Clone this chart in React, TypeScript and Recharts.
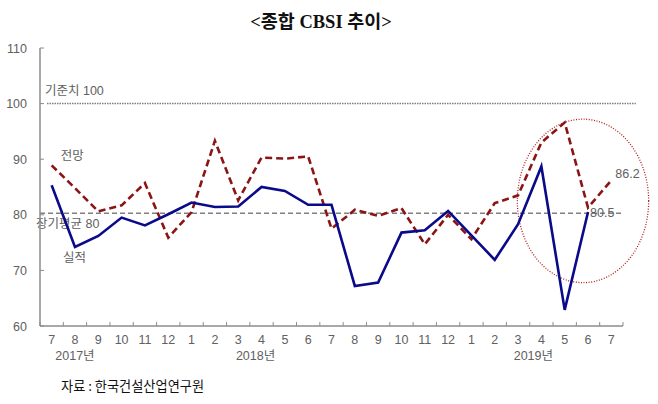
import React from "react";
import {
  LineChart,
  Line,
  XAxis,
  YAxis,
  ReferenceLine,
  ReferenceArea,
  LabelList,
} from "recharts";

// 2017.7 ~ 2019.7 monthly
const MONTHS = [
  "7", "8", "9", "10", "11", "12",
  "1", "2", "3", "4", "5", "6", "7", "8", "9", "10", "11", "12",
  "1", "2", "3", "4", "5", "6", "7",
];
const YEAR_LABELS = [
  { at: 1, label: "2017년", shift: 0 },
  { at: 9, label: "2018년", shift: -6 },
  { at: 21, label: "2019년", shift: -8 },
];
const ACTUAL = [
  85.3, 74.2, 76.2, 79.5, 78.1, 80.1, 82.2, 81.4, 81.5, 85.0, 84.3, 81.8,
  81.8, 67.2, 67.8, 76.8, 77.2, 80.7, 76.3, 71.9, 78.3, 88.7, 62.9, 80.5, null,
];
const FORECAST = [
  88.9, 84.8, 80.6, 81.7, 85.7, 75.9, 80.5, 93.3, 82.6, 90.3, 90.1, 90.5,
  77.5, 80.9, 79.8, 81.2, 74.7, 80.0, 75.6, 82.1, 83.5, 93.0, 96.6, 81.3, 86.2,
];
const Y_TICKS = [60, 70, 80, 90, 100, 110];
const BASELINE = 100;
const LONG_RUN_AVG = 80.3;
// dotted circle around 2019.3 ~ 2019.7
const HIGHLIGHT = { x1: 20.47, x2: 26.1, y1: 67.8, y2: 97.2 };

const data = MONTHS.map((m, i) => ({
  x: i + 0.5,
  month: m,
  actual: ACTUAL[i],
  forecast: FORECAST[i],
}));

// boundaries get tick marks, centers get month labels
const xTicks: number[] = [];
for (let i = 0; i <= MONTHS.length; i++) {
  xTicks.push(i);
  if (i < MONTHS.length) xTicks.push(i + 0.5);
}

const FONT = "'Liberation Sans', 'Noto Sans CJK KR', sans-serif";
const TEXT = "#606060";
const AXIS = "#8c8c8c";
const NAVY = "#0a0a8a";
const MAROON = "#8b1414";

const XTick = (props: any) => {
  const { x, y, payload } = props;
  const v = payload.value as number;
  if (Number.isInteger(v)) {
    return <line x1={x} x2={x} y1={y - 4} y2={y} stroke={AXIS} strokeWidth={1} />;
  }
  const idx = Math.floor(v);
  const year = YEAR_LABELS.find((d) => d.at === idx);
  return (
    <g>
      <text x={x} y={y + 18} textAnchor="middle" fontSize={12.5} fill={TEXT} fontFamily={FONT}>
        {MONTHS[idx]}
      </text>
      {year && (
        <text x={x + year.shift} y={y + 34} textAnchor="middle" fontSize={12.5} fill={TEXT} fontFamily={FONT}>
          {year.label}
        </text>
      )}
    </g>
  );
};

const YTick = (props: any) => {
  const { x, y, payload } = props;
  return (
    <g>
      <text x={x - 13} y={y + 4.5} textAnchor="end" fontSize={12.5} fill={TEXT} fontFamily={FONT}>
        {payload.value}
      </text>
      <line x1={x} x2={x + 4} y1={y} y2={y} stroke={AXIS} strokeWidth={1} />
    </g>
  );
};

const Ellipse = (props: any) => {
  const { x, y, width, height } = props;
  return (
    <ellipse
      cx={x + width / 2}
      cy={y + height / 2}
      rx={width / 2}
      ry={height / 2}
      fill="none"
      stroke="#b01c1c"
      strokeWidth={1.3}
      strokeDasharray="1 1.6"
    />
  );
};

const txt = { fontSize: 12.5, fill: TEXT, fontFamily: FONT } as const;

export default function App() {
  return (
    <div style={{ position: "absolute", left: 0, top: 0, width: 658, height: 404, background: "#fff" }}>
      <div
        style={{
          position: "absolute",
          top: 7,
          left: 0,
          width: 642,
          textAlign: "center",
          fontFamily: "'Liberation Serif', 'Noto Sans CJK KR', serif",
          fontWeight: 700,
          fontSize: 18.5,
          color: "#111",
        }}
      >
        &lt;종합 CBSI 추이&gt;
      </div>
      <LineChart
        width={658}
        height={404}
        data={data}
        margin={{ top: 48, right: 35, left: 0, bottom: 28 }}
      >
        <XAxis
          dataKey="x"
          type="number"
          domain={[0, MONTHS.length]}
          ticks={xTicks}
          interval={0}
          tick={<XTick />}
          tickLine={false}
          tickSize={0}
          tickMargin={0}
          height={50}
          axisLine={{ stroke: AXIS, strokeWidth: 1.5 }}
        />
        <YAxis
          domain={[60, 110]}
          ticks={Y_TICKS}
          interval={0}
          width={40}
          tick={<YTick />}
          tickLine={false}
          tickSize={0}
          tickMargin={0}
          axisLine={{ stroke: AXIS, strokeWidth: 1.5 }}
        />
        <ReferenceLine
          segment={[
            { x: 0.3, y: BASELINE },
            { x: 25.55, y: BASELINE },
          ]}
          ifOverflow="visible"
          stroke="#7f7f7f"
          strokeWidth={1.5}
          strokeDasharray="1.5 1"
          label={(p: any) => (
            <text x={p.viewBox.x - 2} y={p.viewBox.y - 9} {...txt}>
              기준치 100
            </text>
          )}
        />
        <ReferenceLine
          y={LONG_RUN_AVG}
          stroke="#808080"
          strokeWidth={1.5}
          strokeDasharray="5 3"
          label={(p: any) => (
            <text x={p.viewBox.x - 4} y={p.viewBox.y + 15} {...txt}>
              장기평균 80
            </text>
          )}
        />
        <ReferenceArea
          x1={HIGHLIGHT.x1}
          x2={HIGHLIGHT.x2}
          y1={HIGHLIGHT.y1}
          y2={HIGHLIGHT.y2}
          ifOverflow="visible"
          shape={<Ellipse />}
        />
        <Line
          dataKey="forecast"
          type="linear"
          stroke={MAROON}
          strokeWidth={2.6}
          strokeDasharray="7 4"
          dot={false}
          isAnimationActive={false}
        >
          <LabelList
            dataKey="forecast"
            content={(p: any) => {
              if (p.index === 0)
                return (
                  <text x={p.x + 9} y={p.y - 5} {...txt}>
                    전망
                  </text>
                );
              if (p.index === FORECAST.length - 1)
                return (
                  <text x={p.x + 4} y={p.y - 2} {...txt}>
                    {p.value}
                  </text>
                );
              return null;
            }}
          />
        </Line>
        <Line
          dataKey="actual"
          type="linear"
          stroke={NAVY}
          strokeWidth={2.6}
          dot={false}
          isAnimationActive={false}
        >
          <LabelList
            dataKey="actual"
            content={(p: any) => {
              if (p.index === 1)
                return (
                  <text x={p.x - 12} y={p.y + 15} {...txt}>
                    실적
                  </text>
                );
              if (p.index === 23)
                return (
                  <text x={p.x + 2} y={p.y + 5} {...txt}>
                    {p.value}
                  </text>
                );
              return null;
            }}
          />
        </Line>
      </LineChart>
      <div
        style={{
          position: "absolute",
          top: 376,
          left: 61,
          fontFamily: "'Noto Sans CJK KR', sans-serif",
          fontSize: 13.2,
          color: "#111",
        }}
      >
        자료 : 한국건설산업연구원
      </div>
    </div>
  );
}
